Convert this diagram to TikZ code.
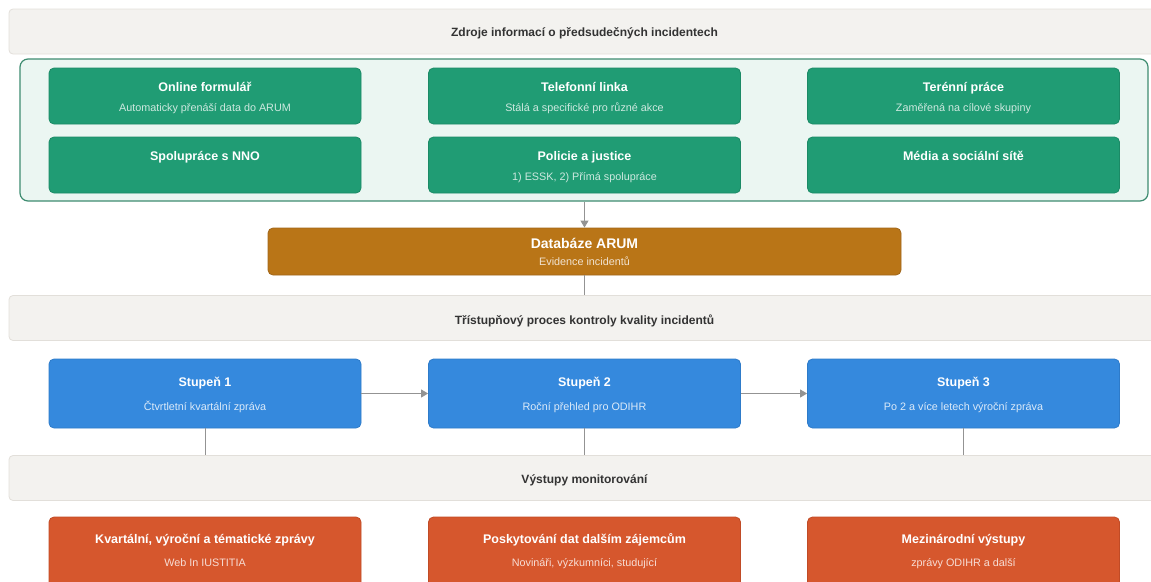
\documentclass[tikz,border=0pt]{standalone}
\usepackage{fontspec}
\setmainfont{Liberation Sans}
\usetikzlibrary{arrows.meta}
\definecolor{hdrfill}{HTML}{F3F2EF}
\definecolor{hdrline}{HTML}{E2DFDA}
\definecolor{contfill}{HTML}{EBF6F2}
\definecolor{contline}{HTML}{3E8C70}
\definecolor{gfill}{HTML}{209C74}
\definecolor{gline}{HTML}{1B8A66}
\definecolor{dbfill}{HTML}{B97517}
\definecolor{dbline}{HTML}{A0661A}
\definecolor{bfill}{HTML}{3589DD}
\definecolor{bline}{HTML}{2E7BC9}
\definecolor{ofill}{HTML}{D6572D}
\definecolor{oline}{HTML}{C04B26}
\definecolor{conn}{HTML}{939393}
\definecolor{hdrtext}{HTML}{333333}
\tikzset{
  hdr/.style={draw=hdrline, fill=hdrfill, rounded corners=4pt, line width=0.8pt, minimum width=1170pt, minimum height=45pt, inner sep=0pt},
  hdrtxt/.style={text=hdrtext, font=\fontsize{12}{14}\selectfont\bfseries, inner sep=0pt, anchor=base},
  card/.style={rounded corners=5pt, line width=0.8pt, minimum width=312pt, inner sep=0pt},
  gcard/.style={card, draw=gline, fill=gfill, minimum height=56pt},
  bcard/.style={card, draw=bline, fill=bfill, minimum height=69pt},
  ocard/.style={card, draw=oline, fill=ofill, minimum height=80pt},
  ttl/.style={text=white, font=\fontsize{12.5}{14}\selectfont\bfseries, inner sep=0pt, anchor=base},
  sub/.style={font=\fontsize{10.8}{12}\selectfont, inner sep=0pt, anchor=base},
  gsub/.style={sub, text=white!78!gfill},
  bsub/.style={sub, text=white!82!bfill},
  osub/.style={sub, text=white!80!ofill},
  conline/.style={draw=conn, line width=0.9pt},
  conarrow/.style={conline, -{Triangle[length=7pt,width=8pt]}},
}
\begin{document}
\begin{tikzpicture}[x=1pt,y=-1pt]
\useasboundingbox (0,0) rectangle (1151,581);
\clip (0,0) rectangle (1151,581);
% headers
\node[hdr] (h1) at (594,31.5) {};
\node[hdrtxt] (h1t) at (584.5,36.3) {Zdroje informací o předsudečných incidentech};
\node[hdr] (h2) at (594,318) {};
\node[hdrtxt] (h2t) at (584.5,324) {Třístupňový proces kontroly kvality incidentů};
\node[hdr] (h3) at (594,478) {};
\node[hdrtxt] (h3t) at (584.5,483) {Výstupy monitorování};
% container
\node[draw=contline, fill=contfill, line width=1.2pt, rounded corners=8pt, minimum width=1128pt, minimum height=142pt, inner sep=0pt] (cont) at (584,130) {};
% green cards
\node[gcard] (g1) at (205,96) {};
\node[gcard] (g2) at (584.5,96) {};
\node[gcard] (g3) at (963.5,96) {};
\node[gcard] (g4) at (205,165) {};
\node[gcard] (g5) at (584.5,165) {};
\node[gcard] (g6) at (963.5,165) {};
\node[ttl] (g1t) at ([yshift=-23.5pt]g1.north) {Online formulář};
\node[gsub] (g1s) at ([yshift=-44pt]g1.north) {Automaticky přenáší data do ARUM};
\node[ttl] (g2t) at ([yshift=-23.5pt]g2.north) {Telefonní linka};
\node[gsub] (g2s) at ([yshift=-44pt]g2.north) {Stálá a specifické pro různé akce};
\node[ttl] (g3t) at ([yshift=-23.5pt]g3.north) {Terénní práce};
\node[gsub] (g3s) at ([yshift=-44pt]g3.north) {Zaměřená na cílové skupiny};
\node[ttl] (g4t) at ([yshift=-23.5pt]g4.north) {Spolupráce s NNO};
\node[ttl] (g5t) at ([yshift=-23.5pt]g5.north) {Policie a justice};
\node[gsub] (g5s) at ([yshift=-44pt]g5.north) {1) ESSK, 2) Přímá spolupráce};
\node[ttl] (g6t) at ([yshift=-23.5pt]g6.north) {Média a sociální sítě};
% database
\node[card, draw=dbline, fill=dbfill, minimum width=633pt, minimum height=47pt] (db) at (584.5,251.5) {};
\node[text=white, font=\fontsize{14}{16}\selectfont\bfseries, inner sep=0pt, anchor=base] (dbt) at (584.5,248) {Databáze ARUM};
\node[sub, text=white!80!dbfill] (dbs) at (584.5,265) {Evidence incidentů};
% blue cards
\node[bcard] (b1) at (205,393.5) {};
\node[bcard] (b2) at (584.5,393.5) {};
\node[bcard] (b3) at (963.5,393.5) {};
\node[ttl] (b1t) at ([yshift=-27.5pt]b1.north) {Stupeň 1};
\node[bsub] (b1s) at ([yshift=-52pt]b1.north) {Čtvrtletní kvartální zpráva};
\node[ttl] (b2t) at ([yshift=-27.5pt]b2.north) {Stupeň 2};
\node[bsub] (b2s) at ([yshift=-52pt]b2.north) {Roční přehled pro ODIHR};
\node[ttl] (b3t) at ([yshift=-27.5pt]b3.north) {Stupeň 3};
\node[bsub] (b3s) at ([yshift=-52pt]b3.north) {Po 2 a více letech výroční zpráva};
% orange cards
\node[ocard] (o1) at (205,557) {};
\node[ocard] (o2) at (584.5,557) {};
\node[ocard] (o3) at (963.5,557) {};
\node[ttl] (o1t) at ([yshift=-26.5pt]o1.north) {Kvartální, výroční a tématické zprávy};
\node[osub] (o1s) at ([yshift=-50pt]o1.north) {Web In IUSTITIA};
\node[ttl] (o2t) at ([yshift=-26.5pt]o2.north) {Poskytování dat dalším zájemcům};
\node[osub] (o2s) at ([yshift=-50pt]o2.north) {Novináři, výzkumníci, studující};
\node[ttl] (o3t) at ([yshift=-26.5pt]o3.north) {Mezinárodní výstupy};
\node[osub] (o3s) at ([yshift=-50pt]o3.north) {zprávy ODIHR a další};
% connectors
\draw[conarrow] (db.north |- cont.south) -- (db.north);
\draw[conline] (db.south) -- (db.south |- h2.north);
\draw[conarrow] (b1.east) -- (b2.west);
\draw[conarrow] (b2.east) -- (b3.west);
\draw[conline] (b1.south) -- (b1.south |- h3.north);
\draw[conline] (b2.south) -- (b2.south |- h3.north);
\draw[conline] (b3.south) -- (b3.south |- h3.north);
\end{tikzpicture}
\end{document}
